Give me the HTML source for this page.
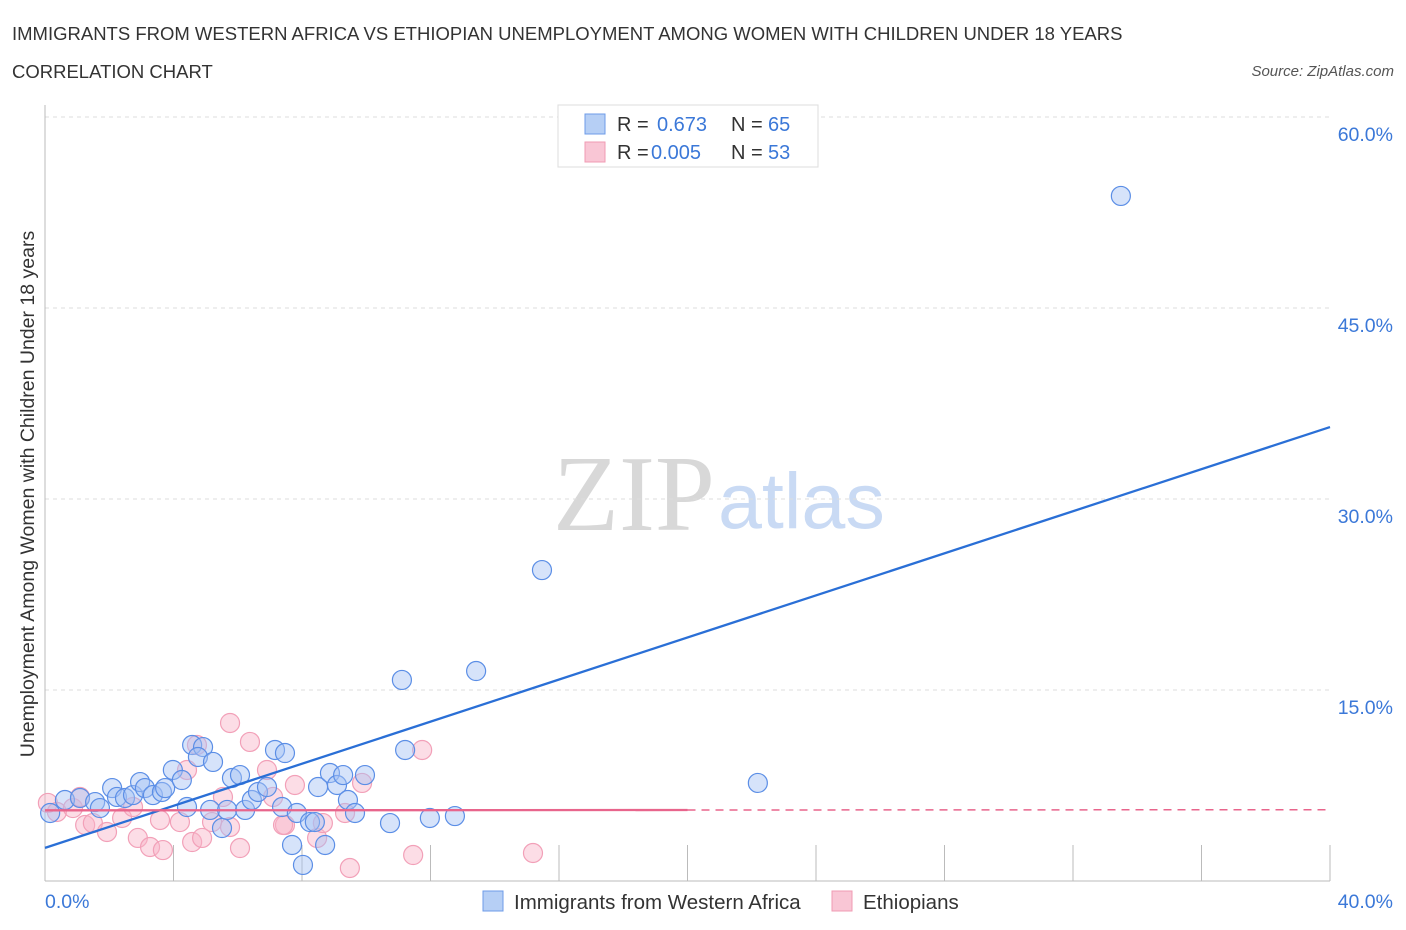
<!DOCTYPE html>
<html><head><meta charset="utf-8"><style>
body{margin:0;background:#fff;font-family:"Liberation Sans",sans-serif}
</style></head><body>
<svg id="c" width="1406" height="930" xmlns="http://www.w3.org/2000/svg" style="display:block">
<text x="12" y="40" font-size="18.5" fill="#333">IMMIGRANTS FROM WESTERN AFRICA VS ETHIOPIAN UNEMPLOYMENT AMONG WOMEN WITH CHILDREN UNDER 18 YEARS</text>
<text x="12" y="78" font-size="18.5" fill="#333">CORRELATION CHART</text>
<text x="1394" y="76" font-size="15" fill="#555" font-style="italic" text-anchor="end">Source: ZipAtlas.com</text>
<text x="553" y="530" font-size="108" fill="#d8d8d8" font-family="Liberation Serif">ZIP</text>
<text x="718" y="528" font-size="79" fill="#c9daf4">atlas</text>
<g id="grid"></g><g id="axes"></g><g id="pink"></g><g id="blue"></g><g id="lines"></g>
<text x="34" y="494" font-size="19.5" fill="#333" text-anchor="middle" transform="rotate(-90 34 494)">Unemployment Among Women with Children Under 18 years</text>
<g>
<rect x="558" y="105" width="260" height="62" fill="#fff" stroke="#ddd"/>
<rect x="585" y="114" width="20" height="20" fill="#b6cff5" stroke="#6d9be8"/>
<rect x="585" y="142" width="20" height="20" fill="#f9c6d5" stroke="#f09bb3"/>
<text x="617" y="131" font-size="20" fill="#333">R =</text>
<text x="657" y="131" font-size="20" fill="#3b78d8">0.673</text>
<text x="731" y="131" font-size="20" fill="#333">N =</text>
<text x="768" y="131" font-size="20" fill="#3b78d8">65</text>
<text x="617" y="159" font-size="20" fill="#333">R =</text>
<text x="651" y="159" font-size="20" fill="#3b78d8">0.005</text>
<text x="731" y="159" font-size="20" fill="#333">N =</text>
<text x="768" y="159" font-size="20" fill="#3b78d8">53</text>
</g>
<g>
<rect x="483" y="891" width="20" height="20" fill="#b6cff5" stroke="#6d9be8"/>
<text x="514" y="909" font-size="20.5" fill="#333">Immigrants from Western Africa</text>
<rect x="832" y="891" width="20" height="20" fill="#f9c6d5" stroke="#f09bb3"/>
<text x="863" y="909" font-size="20.5" fill="#333">Ethiopians</text>
</g>
</svg>
<script>
const yTicks=[15,30,45,60];
const yTickLabels=["15.0%","30.0%","45.0%","60.0%"];
const xTickLabels=["0.0%","40.0%"];
const blueX=[0.16,0.62,1.09,1.56,1.71,2.09,2.24,2.49,2.74,2.96,3.11,3.36,3.64,3.74,3.98,4.26,4.58,4.92,4.76,5.23,4.42,5.14,5.67,5.51,5.82,6.07,6.23,6.44,6.63,6.91,7.16,7.47,7.38,7.84,8.25,8.40,7.69,8.72,8.03,8.50,8.87,9.09,9.28,9.96,9.43,9.65,10.74,11.21,11.98,12.76,11.11,13.42,15.47,22.19,33.49];
const blueY=[5.34,6.36,6.52,6.20,5.73,7.30,6.60,6.52,6.75,7.77,7.30,6.75,6.99,7.30,8.72,7.93,10.68,10.52,9.74,9.35,5.81,5.58,5.58,4.16,8.09,8.32,5.58,6.36,6.99,7.38,10.29,10.05,5.81,5.34,4.63,4.63,2.83,2.83,1.26,7.38,8.48,7.54,8.32,8.32,6.36,5.34,4.55,10.29,4.95,5.10,15.79,16.49,24.42,7.70,53.80];
const pinkX=[0.09,0.37,0.87,1.09,1.25,1.49,1.93,2.40,2.74,2.89,3.27,3.67,3.58,4.20,4.42,4.58,4.89,4.73,5.20,5.54,5.76,6.07,5.76,6.38,6.91,7.10,7.47,7.78,9.34,8.47,8.65,9.87,9.49,11.46,11.74,15.19,7.41];
const pinkY=[6.13,5.42,5.73,6.60,4.40,4.55,3.85,4.95,5.81,3.38,2.67,2.43,4.79,4.63,8.72,3.06,3.38,10.68,4.63,6.60,4.24,2.59,12.41,10.92,8.72,6.60,4.40,7.54,5.34,3.38,4.55,7.70,1.02,2.04,10.29,2.20,4.40];
const blueTrend=[2.6,35.65];
const pinkTrend=[5.55,5.6];
const X=v=>45+v/40*1285, Y=v=>881-v/15*191;
const NS="http://www.w3.org/2000/svg";
function mk(p,t,a){const e=document.createElementNS(NS,t);for(const k in a)e.setAttribute(k,a[k]);document.getElementById(p).appendChild(e);return e;}
yTicks.forEach((t,i)=>{
 const l=mk('grid','line',{x1:45,x2:1330,y1:Y(t),y2:Y(t),stroke:'#ddd','stroke-dasharray':'4 4'});
 
 
 const tx=mk('grid','text',{x:1393,y:Y(t)+24,'font-size':19.5,fill:'#3b78d8','text-anchor':'end'});
 tx.textContent=yTickLabels[i];
 
 
});
let ax=mk('axes','line',{x1:45,x2:45,y1:105,y2:881,stroke:'#bbb'});


ax=mk('axes','line',{x1:45,x2:1330,y1:881,y2:881,stroke:'#bbb'});


for(let i=1;i<=10;i++){const t=mk('axes','line',{x1:X(i*4),x2:X(i*4),y1:845,y2:881,stroke:'#bbb'});
 
 }
let xl=mk('axes','text',{x:45,y:908,'font-size':19.5,fill:'#3b78d8'});xl.textContent=xTickLabels[0];


xl=mk('axes','text',{x:1393,y:908,'font-size':19.5,fill:'#3b78d8','text-anchor':'end'});xl.textContent=xTickLabels[1];


pinkX.forEach((x,i)=>{const c=mk('pink','circle',{cx:X(x),cy:Y(pinkY[i]),r:9.5,fill:'rgba(248,180,200,0.45)',stroke:'#f2a0b8','stroke-width':1.2});
 
 });
blueX.forEach((x,i)=>{const c=mk('blue','circle',{cx:X(x),cy:Y(blueY[i]),r:9.5,fill:'rgba(164,194,244,0.45)',stroke:'#5b8ee6','stroke-width':1.2});
 
 });
let tl=mk('lines','line',{x1:X(0),y1:Y(blueTrend[0]),x2:X(40),y2:Y(blueTrend[1]),stroke:'#2a6fd6','stroke-width':2.3});


const pm=pinkTrend[0]+(pinkTrend[1]-pinkTrend[0])*0.5;
tl=mk('lines','line',{x1:X(0),y1:Y(pinkTrend[0]),x2:X(20),y2:Y(pm),stroke:'#e8658c','stroke-width':2.3});


tl=mk('lines','line',{x1:X(20),y1:Y(pm),x2:X(40),y2:Y(pinkTrend[1]),stroke:'#e8658c','stroke-width':1.5,'stroke-dasharray':'8 6'});


</script>
</body></html>
